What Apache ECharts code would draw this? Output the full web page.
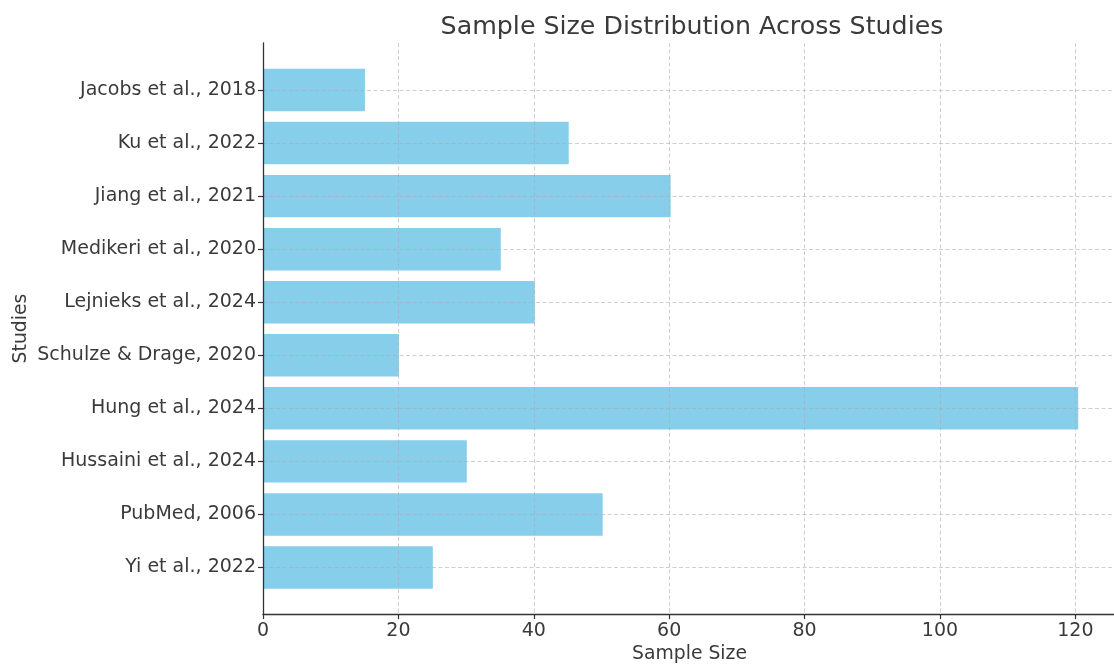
<!DOCTYPE html>
<html>
<head>
<meta charset="utf-8">
<script src="https://cdn.jsdelivr.net/npm/echarts@6/dist/echarts.min.js"></script>
<style>
html,body{margin:0;padding:0;background:#fff;overflow:hidden;width:1114px;height:669px;}
#chart{width:1119px;height:669px;}
</style>
</head>
<body>
<div id="chart"></div>
<script>
// Bottom-to-top order (as matplotlib barh draws them)
const studies = [
  "Yi et al., 2022",
  "PubMed, 2006",
  "Hussaini et al., 2024",
  "Hung et al., 2024",
  "Schulze & Drage, 2020",
  "Lejnieks et al., 2024",
  "Medikeri et al., 2020",
  "Jiang et al., 2021",
  "Ku et al., 2022",
  "Jacobs et al., 2018"
];
const sampleSizes = [25, 50, 30, 120, 20, 40, 35, 60, 45, 15];
const xTicks = [0, 20, 40, 60, 80, 100, 120];

const textColor = '#3a3a3a';
const axisColor = '#333333';
const gridColor = 'rgba(170,170,170,0.55)';
const font = 'DejaVu Sans';
const xMax = 126;

const chart = echarts.init(document.getElementById('chart'), null, {renderer: 'canvas'});
chart.setOption({
  animation: false,
  backgroundColor: '#ffffff',
  textStyle: {fontFamily: font},
  title: {
    text: 'Sample Size Distribution Across Studies',
    left: 687,
    top: 10,
    textAlign: 'center',
    textStyle: {fontSize: 25.3, fontWeight: 'normal', color: textColor, fontFamily: font}
  },
  grid: [
    {left: 263, right: 0, top: 43, bottom: 54},
    {left: 263, right: 0, top: 63.5, bottom: 75}
  ],
  xAxis: [
    {
      gridIndex: 0, type: 'value', min: 0, max: xMax, interval: 20, z: 5,
      name: 'Sample Size', nameLocation: 'middle', nameGap: 29,
      nameTextStyle: {fontSize: 18.8, color: textColor, fontFamily: font},
      axisLine: {show: true, lineStyle: {color: axisColor, width: 1.3}},
      axisTick: {show: true, length: 5, lineStyle: {color: axisColor, width: 1.2}},
      axisLabel: {fontSize: 19, color: textColor, margin: 7,
        formatter: v => (xTicks.indexOf(v) >= 0 ? String(v) : '')},
      splitLine: {show: true, lineStyle: {color: gridColor, width: 1, type: [4, 2.5]}}
    },
    {gridIndex: 1, type: 'value', min: 0, max: xMax, show: false}
  ],
  yAxis: [
    {
      gridIndex: 0, type: 'value', min: 0, max: 1, z: 5,
      name: 'Studies', nameLocation: 'middle', nameGap: 232, nameRotate: 90,
      nameTextStyle: {fontSize: 18.8, color: textColor, fontFamily: font},
      axisLine: {show: true, lineStyle: {color: axisColor, width: 1.3}},
      axisTick: {show: false}, axisLabel: {show: false}, splitLine: {show: false}
    },
    {
      gridIndex: 1, type: 'category', data: studies, z: 5,
      axisLine: {show: false},
      axisTick: {show: true, alignWithLabel: true, length: 5, lineStyle: {color: axisColor, width: 1.2}},
      axisLabel: {fontSize: 19, color: textColor, margin: 7},
      splitLine: {show: true, alignWithLabel: true, lineStyle: {color: gridColor, width: 1, type: [4, 2.5]}}
    }
  ],
  series: [{
    type: 'bar',
    xAxisIndex: 1, yAxisIndex: 1,
    data: sampleSizes,
    barCategoryGap: '20%',
    itemStyle: {color: '#87CEEB'}
  }]
});
</script>
</body>
</html>
